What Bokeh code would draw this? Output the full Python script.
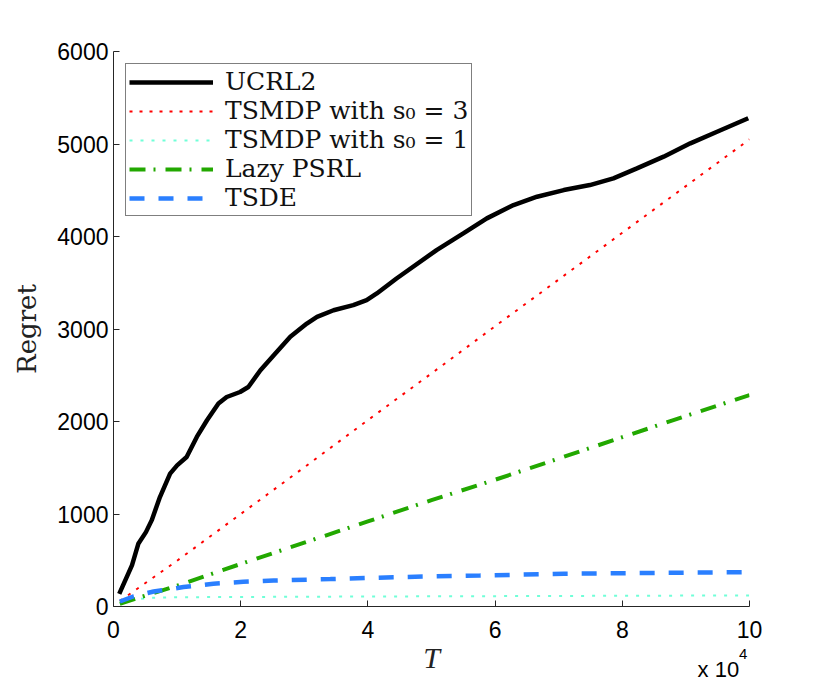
from bokeh.plotting import figure
from bokeh.models import Range1d, FixedTicker, Legend, LegendItem, LinearAxis
from bokeh.embed import file_html
from bokeh.resources import INLINE

# T in units of 10^4
ucrl2_x = [0.09, 0.29, 0.39, 0.51, 0.60, 0.73, 0.89, 1.00, 1.15, 1.31, 1.47, 1.65, 1.78,
           1.99, 2.12, 2.31, 2.52, 2.78, 3.04, 3.20, 3.46, 3.77, 3.98, 4.14, 4.45, 5.08,
           5.50, 5.87, 6.29, 6.66, 7.08, 7.49, 7.86, 8.23, 8.65, 9.07, 9.49, 9.98]
ucrl2_y = [137, 444, 678, 804, 931, 1183, 1436, 1526, 1616, 1833, 2013, 2194, 2265,
           2319, 2373, 2554, 2716, 2915, 3059, 3131, 3203, 3258, 3312, 3384, 3546, 3853,
           4033, 4196, 4340, 4430, 4502, 4556, 4629, 4737, 4863, 5007, 5133, 5278]

ts3_x = [0.1, 1, 2, 3, 4, 5, 6, 7, 8, 9, 10]
ts3_y = [60, 495, 1000, 1505, 2015, 2520, 3030, 3535, 4040, 4545, 5050]

ts1_x = [0.1, 0.3, 0.6, 1, 2, 4, 6, 8, 10]
ts1_y = [30, 75, 95, 100, 103, 108, 112, 116, 120]

lazy_x = [0.1, 1, 2, 3, 4, 5, 6, 7, 8, 9, 10]
lazy_y = [30, 225, 460, 690, 920, 1150, 1370, 1600, 1830, 2060, 2285]

tsde_x = [0.1, 0.31, 0.63, 1.1, 1.57, 2.04, 2.52, 3.41, 4.4, 5.76, 7.08, 8.12, 10]
tsde_y = [54, 108, 162, 210, 246, 267, 281, 296, 317, 335, 354, 360, 372]

x_ticks = [0, 2, 4, 6, 8, 10]
y_ticks = [0, 1000, 2000, 3000, 4000, 5000, 6000]
exponent_base = "x 10"
exponent_power = "4"

labels = ["UCRL2", "TSMDP with s\u2080 = 3", "TSMDP with s\u2080 = 1", "Lazy PSRL", "TSDE"]

p = figure(frame_width=636, frame_height=555,
           min_border_left=113, min_border_top=51, min_border_right=50, min_border_bottom=70,
           x_range=Range1d(0, 10), y_range=Range1d(0, 6000),
           output_backend="svg", toolbar_location=None,
           background_fill_color="white", border_fill_color="white")
p.outline_line_color = None
p.grid.visible = False

r1 = p.line(ucrl2_x, ucrl2_y, line_color="black", line_width=4.5)
r2 = p.line(ts3_x, ts3_y, line_color="#ff0000", line_width=2, line_dash="3 7")
r3 = p.line(ts1_x, ts1_y, line_color="#70ffd8", line_width=2, line_dash="3 8")
r4 = p.line(lazy_x, lazy_y, line_color="#22a800", line_width=4, line_dash="16 8 2 10")
r5 = p.line(tsde_x, tsde_y, line_color="#2a7fff", line_width=4.5, line_dash="15 14")

for ax in (p.xaxis[0], p.yaxis[0]):
    ax.major_tick_in = 6
    ax.major_tick_out = 0
    ax.minor_tick_line_color = None
    ax.axis_line_color = "#262626"
    ax.major_tick_line_color = "#262626"
    ax.major_label_text_font = "Liberation Sans"
    ax.major_label_text_font_size = "23px"
    ax.major_label_text_color = "black"

p.xaxis.ticker = FixedTicker(ticks=x_ticks)
p.yaxis.ticker = FixedTicker(ticks=y_ticks)
p.xaxis.major_label_standoff = 14
p.yaxis.major_label_standoff = 5

p.xaxis.axis_label = "T"
p.xaxis.axis_label_text_font = "Liberation Serif"
p.xaxis.axis_label_text_font_style = "italic"
p.xaxis.axis_label_text_font_size = "30px"
p.xaxis.axis_label_standoff = 0
p.xaxis.axis_label_text_color = "#222222"

p.yaxis.axis_label = "Regret"
p.yaxis.axis_label_text_font = "DejaVu Serif"
p.yaxis.axis_label_text_font_style = "normal"
p.yaxis.axis_label_text_font_size = "26px"
p.yaxis.axis_label_standoff = 12
p.yaxis.axis_label_text_color = "#222222"

# scale-factor text "x 10^4" as label-only axes under the main one
def label_axis(pos, text, size, standoff):
    return LinearAxis(ticker=FixedTicker(ticks=[pos]),
                      major_label_overrides={pos: text},
                      axis_line_color=None, major_tick_line_color=None,
                      minor_tick_line_color=None,
                      major_tick_in=0, major_tick_out=0,
                      major_label_standoff=standoff,
                      major_label_text_font="Liberation Sans",
                      major_label_text_font_size=size,
                      major_label_text_color="black")

p.add_layout(label_axis(9.51, exponent_base, "22px", -20), "below")
p.add_layout(label_axis(9.9, exponent_power, "15px", -36), "below")

legend = Legend(items=[LegendItem(label=labels[0], renderers=[r1]),
                       LegendItem(label=labels[1], renderers=[r2]),
                       LegendItem(label=labels[2], renderers=[r3]),
                       LegendItem(label=labels[3], renderers=[r4]),
                       LegendItem(label=labels[4], renderers=[r5])],
                location="top_left", margin=12, padding=3, spacing=0,
                glyph_width=84, glyph_height=28, label_height=28, label_standoff=12,
                label_text_font="DejaVu Serif", label_text_font_size="25px",
                label_text_color="#111111",
                border_line_color="black", border_line_width=1,
                background_fill_color="white", background_fill_alpha=1)
p.add_layout(legend)

open("out.html", "w").write(file_html(p, INLINE))
